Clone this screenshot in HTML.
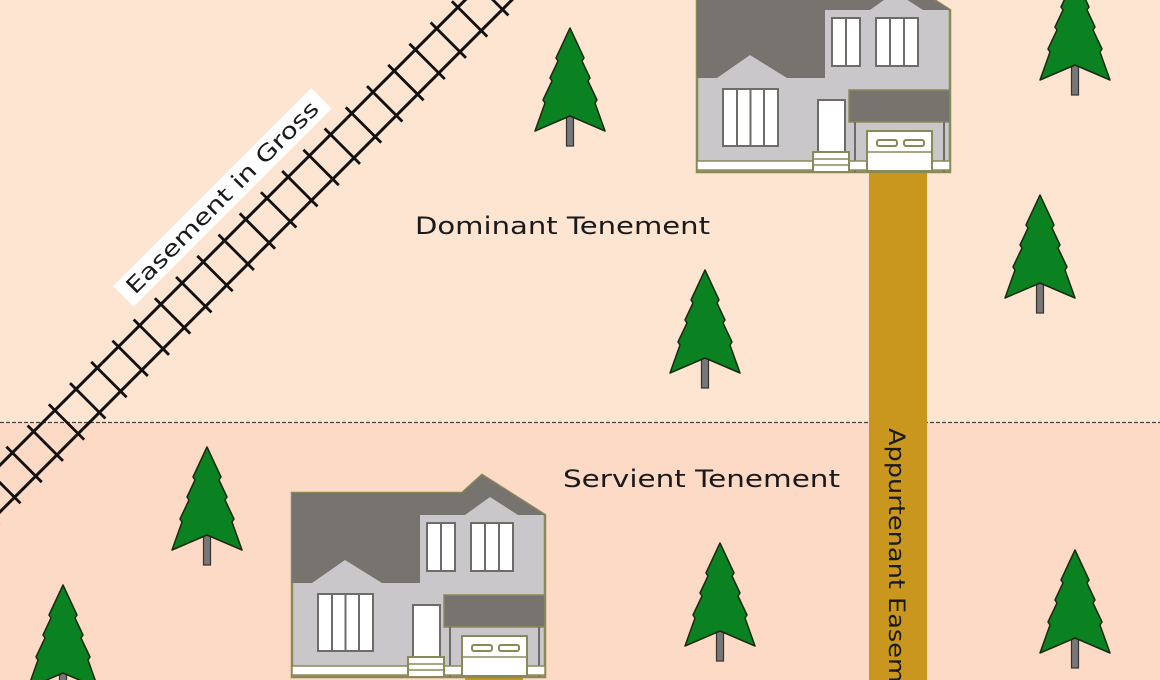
<!DOCTYPE html>
<html><head><meta charset="utf-8"><style>
html,body{margin:0;padding:0;width:1160px;height:680px;overflow:hidden;background:#fde5d2}
svg{display:block}
text{font-family:"DejaVu Sans","Liberation Sans",sans-serif;fill:#1a1a1a}
</style></head><body>
<svg width="1160" height="680" viewBox="0 0 1160 680" xmlns="http://www.w3.org/2000/svg">
<defs>
<g id="tree">
  <rect x="-3.5" y="86" width="7" height="32" fill="#777" stroke="#333" stroke-width="1.2"/>
  <path d="M0,0 L14,30 L12,33 L20,50 L18,53 L27,72 L25,75 L35,103 L0,88 L-35,103 L-25,75 L-27,72 L-18,53 L-20,50 L-12,33 L-14,30 Z" fill="#0a8221" stroke="#1a2a10" stroke-width="1.5" stroke-linejoin="round"/>
</g>
<g id="house">
  <polygon points="0,18 170,18 190,0 253,40 253,202 0,202" fill="#c9c7c9" stroke="#8a8a58" stroke-width="2.5"/>
  <polygon points="0,18 170,18 190,0 253,40 226,40 198,22 173,40 128,40 128,108 90,108 53,85 20,108 0,108" fill="#77746f"/>
  <g fill="#fff" stroke="#6e6c68" stroke-width="2">
    <rect x="135" y="48" width="28" height="48"/><line x1="149" y1="48" x2="149" y2="96"/>
    <rect x="179" y="48" width="42" height="48"/><line x1="193" y1="48" x2="193" y2="96"/><line x1="207" y1="48" x2="207" y2="96"/>
    <rect x="26" y="119" width="55" height="57"/><line x1="40" y1="119" x2="40" y2="176"/><line x1="53.5" y1="119" x2="53.5" y2="176"/><line x1="67" y1="119" x2="67" y2="176"/>
    <rect x="121" y="130" width="27" height="52"/>
  </g>
  <rect x="152" y="120" width="101" height="32" fill="#77746f" stroke="#8a8a58" stroke-width="1.5"/>
  <line x1="158" y1="152" x2="158" y2="202" stroke="#6e6c68" stroke-width="2"/>
  <line x1="247" y1="152" x2="247" y2="202" stroke="#6e6c68" stroke-width="2"/>
  <rect x="0" y="191" width="253" height="9" fill="#fff" stroke="#8a8a58" stroke-width="1.5"/>
  <rect x="170" y="161" width="65" height="40" fill="#fff" stroke="#8a8a58" stroke-width="2"/>
  <line x1="170" y1="182" x2="235" y2="182" stroke="#8a8a58" stroke-width="1.5"/>
  <rect x="180" y="170" width="20" height="6" rx="2" fill="#fff" stroke="#8a8a58" stroke-width="2"/>
  <rect x="207" y="170" width="20" height="6" rx="2" fill="#fff" stroke="#8a8a58" stroke-width="2"/>
  <rect x="116" y="182" width="36" height="20" fill="#fff" stroke="#8a8a58" stroke-width="2"/>
  <line x1="116" y1="189" x2="152" y2="189" stroke="#8a8a58" stroke-width="1.5"/>
  <line x1="116" y1="195" x2="152" y2="195" stroke="#8a8a58" stroke-width="1.5"/>
</g>
</defs>
<rect x="0" y="0" width="1160" height="422" fill="#fde5d2"/>
<rect x="0" y="422" width="1160" height="258" fill="#fcdac5"/>
<line x1="0" y1="422.5" x2="1160" y2="422.5" stroke="#444" stroke-width="1.3" stroke-dasharray="4,2"/>

<g transform="rotate(-45 66.5 422)">
  <g stroke="#111" stroke-width="3">
    <line x1="-100" y1="405.5" x2="720" y2="405.5"/>
    <line x1="-100" y1="438.5" x2="720" y2="438.5"/>
  </g>
  <g stroke="#111" stroke-width="2.8">
    <line x1="-83.5" y1="397" x2="-83.5" y2="447"/>
    <line x1="-53.5" y1="397" x2="-53.5" y2="447"/>
    <line x1="-23.5" y1="397" x2="-23.5" y2="447"/>
    <line x1="6.5" y1="397" x2="6.5" y2="447"/>
    <line x1="36.5" y1="397" x2="36.5" y2="447"/>
    <line x1="66.5" y1="397" x2="66.5" y2="447"/>
    <line x1="96.5" y1="397" x2="96.5" y2="447"/>
    <line x1="126.5" y1="397" x2="126.5" y2="447"/>
    <line x1="156.5" y1="397" x2="156.5" y2="447"/>
    <line x1="186.5" y1="397" x2="186.5" y2="447"/>
    <line x1="216.5" y1="397" x2="216.5" y2="447"/>
    <line x1="246.5" y1="397" x2="246.5" y2="447"/>
    <line x1="276.5" y1="397" x2="276.5" y2="447"/>
    <line x1="306.5" y1="397" x2="306.5" y2="447"/>
    <line x1="336.5" y1="397" x2="336.5" y2="447"/>
    <line x1="366.5" y1="397" x2="366.5" y2="447"/>
    <line x1="396.5" y1="397" x2="396.5" y2="447"/>
    <line x1="426.5" y1="397" x2="426.5" y2="447"/>
    <line x1="456.5" y1="397" x2="456.5" y2="447"/>
    <line x1="486.5" y1="397" x2="486.5" y2="447"/>
    <line x1="516.5" y1="397" x2="516.5" y2="447"/>
    <line x1="546.5" y1="397" x2="546.5" y2="447"/>
    <line x1="576.5" y1="397" x2="576.5" y2="447"/>
    <line x1="606.5" y1="397" x2="606.5" y2="447"/>
    <line x1="636.5" y1="397" x2="636.5" y2="447"/>
    <line x1="666.5" y1="397" x2="666.5" y2="447"/>
    <line x1="696.5" y1="397" x2="696.5" y2="447"/>
  </g>
</g>
<g transform="rotate(-45 222 197)">
  <rect x="82" y="183" width="280" height="29" fill="#fff"/>
  <text x="222" y="205" font-size="22" text-anchor="middle" textLength="262" lengthAdjust="spacingAndGlyphs">Easement in Gross</text>
</g>

<rect x="869" y="170" width="58" height="510" fill="#c9961e"/>
<rect x="465" y="676" width="58" height="4" fill="#c9961e"/>
<text transform="translate(889 428) rotate(90)" font-size="22" textLength="255" lengthAdjust="spacingAndGlyphs">Appurtenant Easem</text>

<use href="#house" x="697" y="-30"/>
<use href="#house" x="292" y="475"/>

<use href="#tree" x="570" y="28"/>
<use href="#tree" x="1075" y="-23"/>
<use href="#tree" x="1040" y="195"/>
<use href="#tree" x="705" y="270"/>
<use href="#tree" x="207" y="447"/>
<use href="#tree" x="720" y="543"/>
<use href="#tree" x="1075" y="550"/>
<use href="#tree" x="63" y="585"/>

<text x="415" y="234" font-size="24" textLength="295" lengthAdjust="spacingAndGlyphs">Dominant Tenement</text>
<text x="563" y="487" font-size="24" textLength="277" lengthAdjust="spacingAndGlyphs">Servient Tenement</text>
</svg>
</body></html>
